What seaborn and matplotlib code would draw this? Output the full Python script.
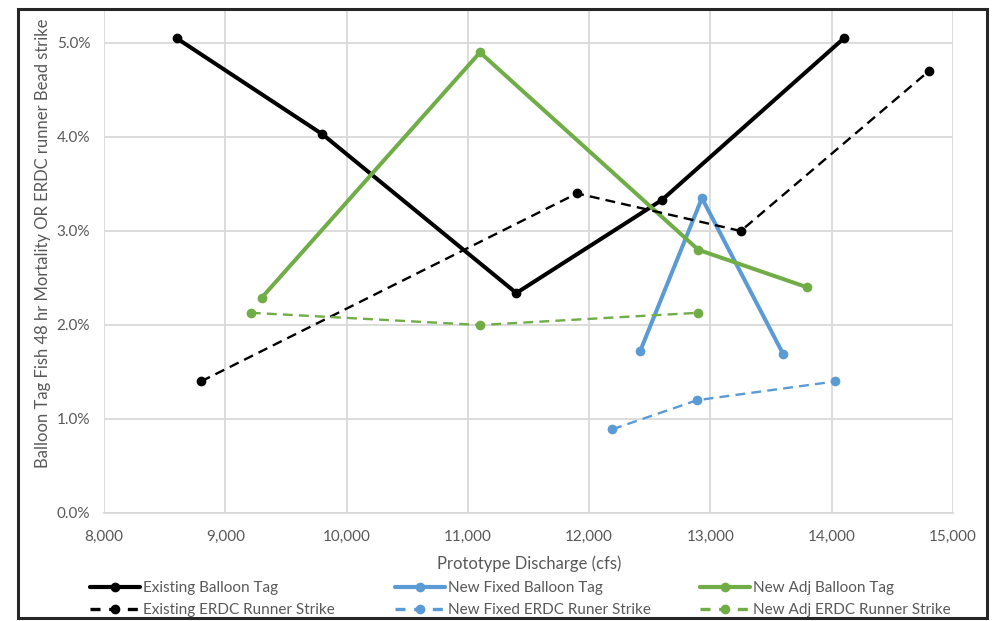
import matplotlib
matplotlib.use("Agg")
import matplotlib.pyplot as plt
import matplotlib.ticker as mticker
from matplotlib.lines import Line2D
from matplotlib.patches import Rectangle
import seaborn as sns
import pandas as pd

# ---- data (discharge in cfs, values in %) ----
existing_tag_x = [8600, 9800, 11400, 12600, 14100]
existing_tag_y = [5.05, 4.03, 2.34, 3.33, 5.05]

existing_erdc_x = [8800, 11900, 13250, 14800]
existing_erdc_y = [1.40, 3.40, 3.00, 4.70]

fixed_tag_x = [12420, 12930, 13600]
fixed_tag_y = [1.72, 3.35, 1.69]

fixed_erdc_x = [12190, 12890, 14030]
fixed_erdc_y = [0.89, 1.20, 1.40]

adj_tag_x = [9300, 11100, 12900, 13800]
adj_tag_y = [2.29, 4.90, 2.80, 2.40]

adj_erdc_x = [9210, 11100, 12900]
adj_erdc_y = [2.13, 2.00, 2.13]

series_names = ["Existing Balloon Tag", "New Fixed Balloon Tag", "New Adj Balloon Tag",
                "Existing ERDC Runner Strike", "New Fixed ERDC Runer Strike", "New Adj ERDC Runner Strike"]

x_ticks = [8000, 9000, 10000, 11000, 12000, 13000, 14000, 15000]
y_ticks = [0, 1, 2, 3, 4, 5]

BLACK = "#000000"
BLUE = "#5B9BD5"
GREEN = "#70AD47"
GRID = "#D9D9D9"
TXT = "#595959"

sns.set_theme(style="white")
plt.rcParams["font.family"] = ["Lato", "DejaVu Sans"]

W, H = 994, 621
fig = plt.figure(figsize=(W / 100, H / 100), dpi=100)

# axes: x 104..953 px, y 9..513 px
left, right, top, bottom = 104, 953, 9, 513
ax = fig.add_axes([left / W, 1 - bottom / H, (right - left) / W, (bottom - top) / H])

y_per_px = 1.0 / 94.0
ax.set_xlim(8000, 15000)
ax.set_ylim(0, (bottom - top) * y_per_px)

dash = (0, (4.2, 2.6))
solid_kw = dict(lw=2.9, marker="o", markersize=7, markeredgewidth=0)
dash_kw = dict(lw=1.7, marker="o", markersize=7, markeredgewidth=0, linestyle=dash)

specs = [
    (existing_tag_x, existing_tag_y, BLACK, solid_kw),
    (fixed_tag_x, fixed_tag_y, BLUE, solid_kw),
    (adj_tag_x, adj_tag_y, GREEN, solid_kw),
    (existing_erdc_x, existing_erdc_y, BLACK, dash_kw),
    (fixed_erdc_x, fixed_erdc_y, BLUE, dash_kw),
    (adj_erdc_x, adj_erdc_y, GREEN, dash_kw),
]
for xs, ys, c, kw in specs:
    df = pd.DataFrame({"x": xs, "y": ys})
    sns.lineplot(data=df, x="x", y="y", ax=ax, color=c, sort=False,
                 estimator=None, legend=False, clip_on=False, **kw)

ax.set_xticks(x_ticks)
ax.set_yticks(y_ticks)
ax.xaxis.set_major_formatter(mticker.FuncFormatter(lambda v, p: f"{int(v):,}"))
ax.yaxis.set_major_formatter(mticker.FuncFormatter(lambda v, p: f"{v:.1f}%"))
ax.grid(True, color=GRID, lw=1.3)
ax.set_axisbelow(True)
for s in ["top", "right", "left"]:
    ax.spines[s].set_visible(False)
ax.spines["bottom"].set_color(GRID)
ax.spines["bottom"].set_linewidth(1.3)
ax.tick_params(axis="both", length=0, labelsize=11, labelcolor=TXT)
ax.tick_params(axis="y", pad=10)
ax.tick_params(axis="x", pad=12)
ax.set_xlabel("")
ax.set_ylabel("")

fig.text(529 / W, 1 - 564 / H, "Prototype Discharge (cfs)", ha="center", va="center",
         fontsize=12, color=TXT)
fig.text(43 / W, 1 - 243 / H, "Balloon Tag Fish 48 hr Mortality OR ERDC runner Bead strike",
         ha="center", va="center", rotation=90, fontsize=12, color=TXT)

# legend: three columns placed manually
cols = [(90, [0, 3]), (395, [1, 4]), (700, [2, 5])]
for xpx, idxs in cols:
    handles = []
    labels = []
    for i in idxs:
        xs, ys, c, kw = specs[i]
        if kw is solid_kw:
            h = Line2D([], [], color=c, lw=3.0, linestyle="-", marker="o",
                       markersize=7, markeredgewidth=0)
        else:
            h = Line2D([], [], color=c, lw=2.4, linestyle=(0, (3.0, 2.6)), marker="o",
                       markersize=7, markeredgewidth=0)
        handles.append(h)
        labels.append(series_names[i])
    leg = fig.legend(handles, labels, loc="upper left",
                     bbox_to_anchor=(xpx / W, 1 - 581 / H), frameon=False,
                     fontsize=11, handlelength=3.3, handletextpad=0.2,
                     labelspacing=0.55, borderaxespad=0, borderpad=0)
    for t in leg.get_texts():
        t.set_color(TXT)

# outer frame
fig.patches.append(Rectangle((18 / W, 1 - 618 / H), (987 - 18) / W, (618 - 9) / H,
                             transform=fig.transFigure, fill=False, lw=2.2,
                             edgecolor="#262626", zorder=10))

fig.savefig("out.png", dpi=100)
